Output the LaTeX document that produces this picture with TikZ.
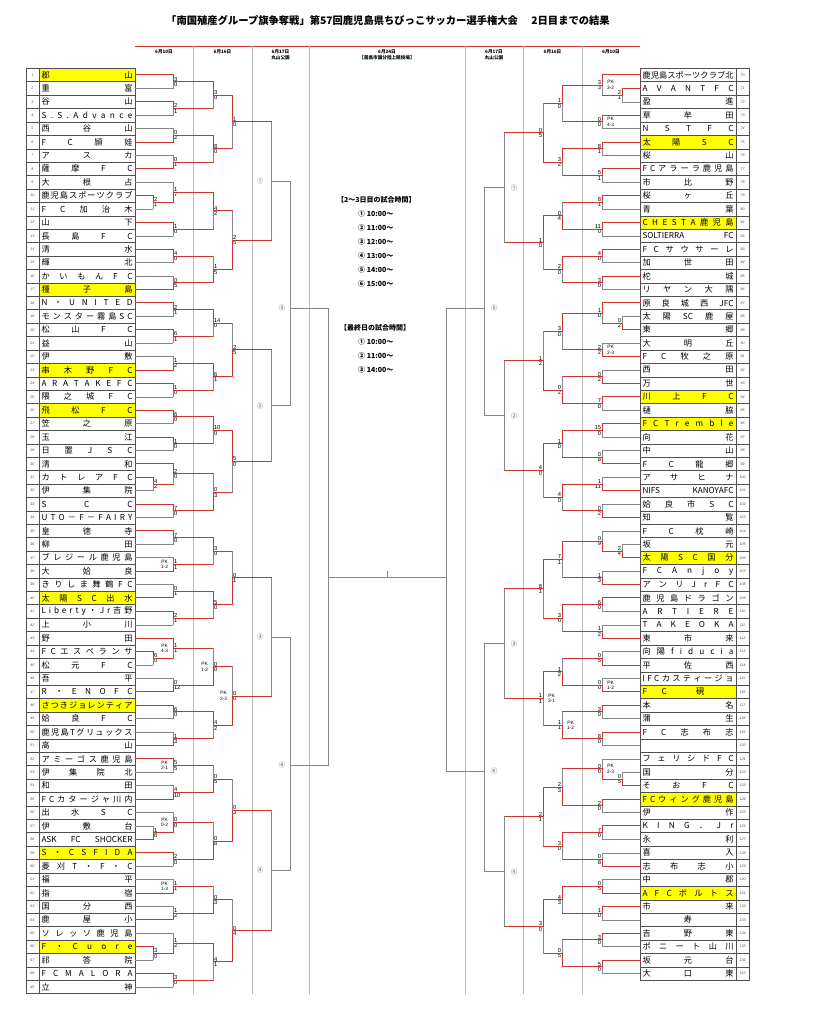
\documentclass[tikz,border=0pt]{standalone}
\usepackage{fontspec}
\usetikzlibrary{calc}
\newfontfamily\jp{Noto Sans CJK JP}
\newfontfamily\numf{Liberation Sans}
\definecolor{wred}{RGB}{204,51,51}
\definecolor{lgr}{RGB}{135,135,135}
\definecolor{sepc}{RGB}{185,185,185}
\definecolor{bord}{RGB}{80,80,80}
\definecolor{hl}{RGB}{255,255,0}
\def\spA#1#2\endsp{#1\if\relax\detokenize{#2}\relax\else\hfill\spA#2\endsp\fi}
\newcommand\spreadtext[1]{\spA#1\endsp}
\tikzset{
 namecell/.style={draw=bord, line width=0.45pt, minimum width=96pt, minimum height=13.41pt, inner sep=0pt, font=\jp\fontsize{8.2}{8.2}\selectfont},
 numcell/.style={draw=bord, line width=0.45pt, minimum width=13pt, minimum height=13.41pt, inner sep=0pt, font=\numf\itshape\fontsize{3.6}{3.6}\selectfont, text=black!70},
 r/.style={draw=wred, line width=1.0pt, line cap=rect},
 g/.style={draw=lgr, line width=0.55pt, line cap=rect},
 sc/.style={font=\numf\fontsize{5.8}{5.8}\selectfont, inner sep=0pt},
 pk/.style={font=\numf\fontsize{4.8}{5.4}\selectfont, align=center, inner sep=0pt},
 rl/.style={font=\jp\fontsize{6.5}{6.5}\selectfont, text=black!65, inner sep=0pt},
 sepline/.style={draw=sepc, line width=0.6pt},
 hdr/.style={font=\jp\bfseries\fontsize{4.6}{5.6}\selectfont, align=center, inner sep=0pt},
 ctext/.style={font=\jp\bfseries\fontsize{7}{7}\selectfont, inner sep=0pt, anchor=west},
}
\newcommand\lteam[3]{%
 \node[numcell] (nL#1) at (32.5,{75+13.41*(#1-1)}) {#1};
 \node[namecell,fill=#3] (tL#1) at (87,{75+13.41*(#1-1)}) {\hbox to 91pt{\spreadtext{#2}}};
 \coordinate (L#1) at (135,{75+13.41*(#1-1)});}
\newcommand\rteam[3]{%
 \node[numcell] (nR#1) at (742.5,{75+13.41*(#1-70)}) {#1};
 \node[namecell,fill=#3] (tR#1) at (688,{75+13.41*(#1-70)}) {\hbox to 91pt{\spreadtext{#2}}};
 \coordinate (R#1) at (640,{75+13.41*(#1-70)});}
\newcommand\mtch[8]{%
 \coordinate (#1m) at ($(#2)!0.5!(#3)$);
 \coordinate (#1) at (#4,0 |- #1m);
 \coordinate (#1a) at (#4,0 |- #2);
 \coordinate (#1b) at (#4,0 |- #3);
 \draw[#5] (#2) -- (#1a);
 \draw[#6] (#1a) -- (#1);
 \draw[#7] (#3) -- (#1b);
 \draw[#8] (#1b) -- (#1);}
\newcommand\mtchY[5]{%
 \coordinate (#1) at (#4,#5);
 \coordinate (#1a) at (#4,0 |- #2);
 \coordinate (#1b) at (#4,0 |- #3);
 \draw[g] (#2) -- (#1a) -- (#1b) -- (#3);}
\newcommand\scL[3]{%
 \node[sc,anchor=south west] (#1u) at ($(#1)+(0.8,-0.4)$) {#2};
 \node[sc,anchor=north west] (#1d) at ($(#1)+(0.8,0.4)$) {#3};}
\newcommand\scR[3]{%
 \node[sc,anchor=south east] (#1u) at ($(#1)+(-0.8,-0.4)$) {#2};
 \node[sc,anchor=north east] (#1d) at ($(#1)+(-0.8,0.4)$) {#3};}
\newcommand\pkL[2]{\node[pk] (#1pk) at ($(#1)+(-8.5,0)$) {PK\\#2};}
\newcommand\pkR[2]{\node[pk] (#1pk) at ($(#1)+(8.5,0)$) {PK\\#2};}
\newcommand\labL[3]{\node[rl] (#1lab) at ($(#1)+(-#2,0)$) {#3};}
\newcommand\labR[3]{\node[rl] (#1lab) at ($(#1)+(#2,0)$) {#3};}
\begin{document}
\begin{tikzpicture}[x=1pt,y=-1pt]
\useasboundingbox (0,0) rectangle (819,1024);
\fill[white] (0,0) rectangle (819,1024);
% header
\node[font=\jp\bfseries\fontsize{10.3}{10.3}\selectfont, inner sep=0pt] (title) at (388,21) {「南国殖産グループ旗争奪戦」第57回鹿児島県ちびっこサッカー選手権大会\hspace{1.3em}2日目までの結果};
\coordinate (hl1) at (135,46); \coordinate (hl2) at (640,46);
\draw[draw=wred, line width=0.8pt] (hl1) -- (hl2);
\foreach \xx in {193,252,309,465,523,582} { \draw[sepline] (\xx,46) -- (\xx,994); }
\node[hdr] (h1) at (164,52) {6月10日};
\node[hdr] (h2) at (222.5,52) {6月16日};
\node[hdr,anchor=north] (h3) at (280.5,49.5) {6月17日\\丸山公園};
\node[hdr,anchor=north] (h4) at (387,49.5) {6月24日\\【霧島市国分陸上競技場】};
\node[hdr,anchor=north] (h5) at (494,49.5) {6月17日\\丸山公園};
\node[hdr] (h6) at (552.5,52) {6月16日};
\node[hdr] (h7) at (611,52) {6月10日};
% center text
\node[ctext] (ct0) at (337,200) {【2～3日目の試合時間】};
\node[ctext] (ct1) at (358,214) {① 10:00～};
\node[ctext] (ct2) at (358,228) {② 11:00～};
\node[ctext] (ct3) at (358,242) {③ 12:00～};
\node[ctext] (ct4) at (358,256) {④ 13:00～};
\node[ctext] (ct5) at (358,270) {⑤ 14:00～};
\node[ctext] (ct6) at (358,284) {⑥ 15:00～};
\node[ctext] (ct7) at (340,328) {【最終日の試合時間】};
\node[ctext] (ct8) at (358,342) {① 10:00～};
\node[ctext] (ct9) at (358,356) {② 11:00～};
\node[ctext] (ct10) at (358,370) {③ 14:00～};
% left teams
\lteam{1}{郡山}{hl}
\lteam{2}{重富}{white}
\lteam{3}{谷山}{white}
\lteam{4}{S.S.Advance}{white}
\lteam{5}{西谷山}{white}
\lteam{6}{FC頴娃}{white}
\lteam{7}{アスカ}{white}
\lteam{8}{薩摩FC}{white}
\lteam{9}{大根占}{white}
\lteam{10}{鹿児島スポーツクラブ}{white}
\lteam{11}{FC加治木}{white}
\lteam{12}{山下}{white}
\lteam{13}{長島FC}{white}
\lteam{14}{清水}{white}
\lteam{15}{輝北}{white}
\lteam{16}{かいもんFC}{white}
\lteam{17}{種子島}{hl}
\lteam{18}{N・UNITED}{white}
\lteam{19}{モンスター霧島SC}{white}
\lteam{20}{松山FC}{white}
\lteam{21}{益山}{white}
\lteam{22}{伊敷}{white}
\lteam{23}{串木野FC}{hl}
\lteam{24}{ARATAKEFC}{white}
\lteam{25}{隈之城FC}{white}
\lteam{26}{飛松FC}{hl}
\lteam{27}{笠之原}{white}
\lteam{28}{玉江}{white}
\lteam{29}{日置JSC}{white}
\lteam{30}{清和}{white}
\lteam{31}{カトレアFC}{white}
\lteam{32}{伊集院}{white}
\lteam{33}{SCC}{white}
\lteam{34}{UTO－F－FAIRY}{white}
\lteam{35}{皇徳寺}{white}
\lteam{36}{柳田}{white}
\lteam{37}{ブレジール鹿児島}{white}
\lteam{38}{大姶良}{white}
\lteam{39}{きりしま舞鶴FC}{white}
\lteam{40}{太陽SC出水}{hl}
\lteam{41}{Liberty・Jr吉野}{white}
\lteam{42}{上小川}{white}
\lteam{43}{野田}{white}
\lteam{44}{FCエスペランサ}{white}
\lteam{45}{松元FC}{white}
\lteam{46}{吾平}{white}
\lteam{47}{R・ENOFC}{white}
\lteam{48}{さつきジョレンティア}{hl}
\lteam{49}{姶良FC}{white}
\lteam{50}{鹿児島Tグリュックス}{white}
\lteam{51}{高山}{white}
\lteam{52}{アミーゴス鹿児島}{white}
\lteam{53}{伊集院北}{white}
\lteam{54}{和田}{white}
\lteam{55}{FCカタージャ川内}{white}
\lteam{56}{出水SC}{white}
\lteam{57}{伊敷台}{white}
\lteam{58}{{ASK}{FC}{SHOCKER}{}}{white}
\lteam{59}{S・CSFIDA}{hl}
\lteam{60}{菱刈T・F・C}{white}
\lteam{61}{福平}{white}
\lteam{62}{指宿}{white}
\lteam{63}{国分西}{white}
\lteam{64}{鹿屋小}{white}
\lteam{65}{ソレッソ鹿児島}{white}
\lteam{66}{F・Cuore}{hl}
\lteam{67}{祁答院}{white}
\lteam{68}{FCMALORA}{white}
\lteam{69}{立神}{white}
% right teams
\rteam{70}{鹿児島スポーツクラブ北}{white}
\rteam{71}{AVANTFC}{white}
\rteam{72}{盈進}{white}
\rteam{73}{草牟田}{white}
\rteam{74}{NSTFC}{white}
\rteam{75}{太陽SC}{hl}
\rteam{76}{桜山}{white}
\rteam{77}{FCアラーラ鹿児島}{white}
\rteam{78}{市比野}{white}
\rteam{79}{桜ヶ丘}{white}
\rteam{80}{青葉}{white}
\rteam{81}{CHESTA鹿児島}{hl}
\rteam{82}{{SOLTIERRA}{FC}{}}{white}
\rteam{83}{FCサウサーレ}{white}
\rteam{84}{加世田}{white}
\rteam{85}{柁城}{white}
\rteam{86}{リヤン大隅}{white}
\rteam{87}{原良城西{JFC}{}}{white}
\rteam{88}{太陽{SC}鹿屋}{white}
\rteam{89}{東郷}{white}
\rteam{90}{大明丘}{white}
\rteam{91}{FC牧之原}{white}
\rteam{92}{西田}{white}
\rteam{93}{万世}{white}
\rteam{94}{川上FC}{hl}
\rteam{95}{樋脇}{white}
\rteam{96}{FC Tremble}{hl}
\rteam{97}{向花}{white}
\rteam{98}{中山}{white}
\rteam{99}{FC龍郷}{white}
\rteam{100}{アサヒナ}{white}
\rteam{101}{{NIFS}{KANOYAFC}{}}{white}
\rteam{102}{姶良市SC}{white}
\rteam{103}{知覧}{white}
\rteam{104}{FC枕崎}{white}
\rteam{105}{坂元}{white}
\rteam{106}{太陽SC国分}{hl}
\rteam{107}{FCAnjoy}{white}
\rteam{108}{アンリJrFC}{white}
\rteam{109}{鹿児島ドラゴン}{white}
\rteam{110}{ARTIERE}{white}
\rteam{111}{TAKEOKA}{white}
\rteam{112}{東市来}{white}
\rteam{113}{向陽fiducia}{white}
\rteam{114}{平佐西}{white}
\rteam{115}{IFCカスティージョ}{white}
\rteam{116}{FC{}硯{}{}{}}{hl}
\rteam{117}{本名}{white}
\rteam{118}{蒲生}{white}
\rteam{119}{FC志布志}{white}
\rteam{120}{{\hfill}}{white}
\rteam{121}{フェリシドFC}{white}
\rteam{122}{国分}{white}
\rteam{123}{そおFC}{white}
\rteam{124}{FCウィング鹿児島}{hl}
\rteam{125}{伊作}{white}
\rteam{126}{KING．Jr}{white}
\rteam{127}{永利}{white}
\rteam{128}{喜入}{white}
\rteam{129}{志布志小}{white}
\rteam{130}{中郡}{white}
\rteam{131}{AFCボルトス}{hl}
\rteam{132}{市来}{white}
\rteam{133}{{\hfill}寿{\hfill}}{white}
\rteam{134}{吉野東}{white}
\rteam{135}{ポニート山川}{white}
\rteam{136}{坂元台}{white}
\rteam{137}{大口東}{white}
% ===== left bracket =====
\mtch{a1}{L1}{L2}{173}{r}{r}{g}{g}\scL{a1}{3}{0}
\mtch{a2}{L3}{L4}{173}{r}{r}{g}{g}\scL{a2}{2}{1}
\mtch{b1}{a1}{a2}{213}{r}{r}{r}{g}\scL{b1}{3}{0}
\mtch{a3}{L5}{L6}{173}{g}{g}{r}{r}\scL{a3}{0}{2}
\mtch{a4}{L7}{L8}{173}{g}{g}{r}{r}\scL{a4}{0}{1}
\mtch{b2}{a3}{a4}{213}{r}{r}{r}{g}\scL{b2}{8}{0}
\mtch{c1}{b1}{b2}{232}{r}{r}{r}{g}\scL{c1}{1}{0}
\mtch{p1}{L10}{L11}{153}{r}{r}{g}{g}\scL{p1}{2}{1}
\mtch{a5}{L9}{p1}{173}{g}{g}{r}{r}\scL{a5}{1}{7}
\mtch{a6}{L12}{L13}{173}{r}{r}{g}{g}\scL{a6}{1}{0}
\mtch{b3}{a5}{a6}{213}{r}{r}{r}{g}\scL{b3}{4}{2}
\mtch{a7}{L14}{L15}{173}{r}{r}{g}{g}\scL{a7}{4}{0}
\mtch{a8}{L16}{L17}{173}{g}{g}{r}{r}\scL{a8}{0}{5}
\mtch{b4}{a7}{a8}{213}{r}{g}{r}{r}\scL{b4}{1}{5}
\mtch{c2}{b3}{b4}{232}{r}{g}{r}{r}\scL{c2}{2}{5}
\mtch{d1}{c1}{c2}{271}{r}{g}{r}{g}\labL{d1}{11}{①}
\mtch{a9}{L18}{L19}{173}{r}{r}{g}{g}\scL{a9}{2}{1}
\mtch{a10}{L20}{L21}{173}{r}{r}{g}{g}\scL{a10}{6}{1}
\mtch{b5}{a9}{a10}{213}{r}{r}{r}{g}\scL{b5}{14}{0}
\mtch{a11}{L22}{L23}{173}{g}{g}{r}{r}\scL{a11}{1}{2}
\mtch{a12}{L24}{L25}{173}{r}{r}{g}{g}\scL{a12}{1}{0}
\mtch{b6}{a11}{a12}{213}{r}{r}{r}{g}\scL{b6}{6}{1}
\mtch{c3}{b5}{b6}{232}{r}{g}{r}{r}\scL{c3}{2}{5}
\mtch{a13}{L26}{L27}{173}{r}{r}{g}{g}\scL{a13}{6}{0}
\mtch{a14}{L28}{L29}{173}{r}{r}{g}{g}\scL{a14}{1}{0}
\mtch{b7}{a13}{a14}{213}{r}{r}{r}{g}\scL{b7}{10}{0}
\mtch{p2}{L31}{L32}{153}{r}{r}{g}{g}\scL{p2}{4}{2}
\mtch{a15}{L30}{p2}{173}{r}{r}{r}{g}\scL{a15}{2}{0}
\mtch{a16}{L33}{L34}{173}{r}{r}{g}{g}\scL{a16}{7}{0}
\mtch{b8}{a15}{a16}{213}{r}{g}{r}{r}\scL{b8}{0}{3}
\mtch{c4}{b7}{b8}{232}{r}{r}{r}{g}\scL{c4}{5}{0}
\mtch{d2}{c3}{c4}{271}{r}{g}{r}{g}\labL{d2}{11}{②}
\mtchY{e1}{d1}{d2}{290}{308}\labL{e1}{8}{⑤}
\mtch{a17}{L35}{L36}{173}{r}{r}{g}{g}\scL{a17}{7}{0}
\mtch{a18}{L37}{L38}{173}{g}{g}{r}{r}\scL{a18}{1}{1}\pkL{a18}{1-2}
\mtch{b9}{a17}{a18}{213}{r}{r}{r}{g}\scL{b9}{3}{0}
\mtch{a19}{L39}{L40}{173}{g}{g}{r}{r}\scL{a19}{0}{1}
\mtch{a20}{L41}{L42}{173}{r}{r}{g}{g}\scL{a20}{2}{1}
\mtch{b10}{a19}{a20}{213}{r}{r}{r}{g}\scL{b10}{5}{0}
\mtch{c5}{b9}{b10}{232}{r}{g}{r}{r}\scL{c5}{0}{1}
\mtch{p3}{L44}{L45}{153}{r}{r}{g}{g}\scL{p3}{6}{0}
\mtch{a21}{L43}{p3}{173}{r}{r}{r}{g}\scL{a21}{1}{1}\pkL{a21}{4-3}
\mtch{a22}{L46}{L47}{173}{g}{g}{r}{r}\scL{a22}{0}{12}
\mtch{b11}{a21}{a22}{213}{r}{g}{r}{r}\scL{b11}{0}{0}\pkL{b11}{1-2}
\mtch{a23}{L48}{L49}{173}{r}{r}{g}{g}\scL{a23}{6}{0}
\mtch{a24}{L50}{L51}{173}{g}{g}{r}{r}\scL{a24}{1}{3}
\mtch{b12}{a23}{a24}{213}{r}{r}{r}{g}\scL{b12}{4}{2}
\mtch{c6}{b11}{b12}{232}{r}{g}{r}{r}\scL{c6}{0}{0}\pkL{c6}{2-3}
\mtch{d3}{c5}{c6}{271}{r}{g}{r}{g}\labL{d3}{11}{③}
\mtch{a25}{L52}{L53}{173}{r}{r}{g}{g}\scL{a25}{5}{5}\pkL{a25}{2-1}
\mtch{a26}{L54}{L55}{173}{g}{g}{r}{r}\scL{a26}{4}{10}
\mtch{b13}{a25}{a26}{213}{r}{g}{r}{r}\scL{b13}{0}{5}
\mtch{p4}{L57}{L58}{153}{g}{g}{r}{r}\scL{p4}{1}{6}
\mtch{a27}{L56}{p4}{173}{g}{g}{r}{r}\scL{a27}{0}{0}\pkL{a27}{0-2}
\mtch{a28}{L59}{L60}{173}{r}{r}{g}{g}\scL{a28}{2}{0}
\mtch{b14}{a27}{a28}{213}{r}{g}{r}{r}\scL{b14}{0}{8}
\mtch{c7}{b13}{b14}{232}{r}{g}{r}{r}\scL{c7}{0}{3}
\mtch{a29}{L61}{L62}{173}{g}{g}{r}{r}\scL{a29}{1}{1}\pkL{a29}{1-3}
\mtch{a30}{L63}{L64}{173}{g}{g}{r}{r}\scL{a30}{1}{2}
\mtch{b15}{a29}{a30}{213}{r}{g}{r}{r}\scL{b15}{0}{3}
\mtch{p5}{L66}{L67}{153}{r}{r}{g}{g}\scL{p5}{3}{0}
\mtch{a31}{L65}{p5}{173}{g}{g}{r}{r}\scL{a31}{1}{2}
\mtch{a32}{L68}{L69}{173}{r}{r}{g}{g}\scL{a32}{3}{0}
\mtch{b16}{a31}{a32}{213}{r}{r}{r}{g}\scL{b16}{4}{1}
\mtch{c8}{b15}{b16}{232}{r}{g}{r}{r}\scL{c8}{0}{4}
\mtch{d4}{c7}{c8}{271}{r}{g}{r}{g}\labL{d4}{11}{④}
\mtchY{e2}{d3}{d4}{290}{765}\labL{e2}{8}{⑥}
% ===== right bracket =====
\mtch{q1}{R71}{R72}{622}{r}{r}{g}{g}\scR{q1}{2}{1}
\mtch{s1}{R70}{q1}{602}{r}{r}{r}{g}\scR{s1}{3}{3}\pkR{s1}{3-2}
\mtch{s2}{R73}{R74}{602}{r}{r}{g}{g}\scR{s2}{0}{0}\pkR{s2}{4-3}
\mtch{t1}{s1}{s2}{562}{r}{r}{r}{g}\scR{t1}{1}{0}
\mtch{s3}{R75}{R76}{602}{r}{r}{g}{g}\scR{s3}{8}{1}
\mtch{s4}{R77}{R78}{602}{r}{r}{g}{g}\scR{s4}{5}{1}
\mtch{t2}{s3}{s4}{562}{r}{r}{r}{g}\scR{t2}{3}{2}
\mtch{u1}{t1}{t2}{543}{r}{g}{r}{r}\scR{u1}{0}{5}
\mtch{s5}{R79}{R80}{602}{r}{r}{g}{g}\scR{s5}{8}{1}
\mtch{s6}{R81}{R82}{602}{r}{r}{g}{g}\scR{s6}{11}{0}
\mtch{t3}{s5}{s6}{562}{r}{g}{r}{r}\scR{t3}{0}{4}
\mtch{s7}{R83}{R84}{602}{r}{r}{g}{g}\scR{s7}{4}{0}
\mtch{s8}{R85}{R86}{602}{r}{r}{g}{g}\scR{s8}{3}{0}
\mtch{t4}{s7}{s8}{562}{r}{r}{r}{g}\scR{t4}{2}{0}
\mtch{u2}{t3}{t4}{543}{r}{r}{r}{g}\scR{u2}{1}{0}
\mtch{v1}{u1}{u2}{504}{r}{g}{r}{g}\labR{v1}{10}{①}
\mtch{q2}{R88}{R89}{622}{g}{g}{r}{r}\scR{q2}{0}{2}
\mtch{s9}{R87}{q2}{602}{r}{r}{r}{g}\scR{s9}{1}{0}
\mtch{s10}{R90}{R91}{602}{g}{g}{r}{r}\scR{s10}{2}{2}\pkR{s10}{2-3}
\mtch{t5}{s9}{s10}{562}{r}{r}{r}{g}\scR{t5}{3}{0}
\mtch{s11}{R92}{R93}{602}{g}{g}{r}{r}\scR{s11}{0}{2}
\mtch{s12}{R94}{R95}{602}{r}{r}{g}{g}\scR{s12}{7}{0}
\mtch{t6}{s11}{s12}{562}{r}{g}{r}{r}\scR{t6}{0}{2}
\mtch{u3}{t5}{t6}{543}{r}{g}{r}{r}\scR{u3}{1}{2}
\mtch{s13}{R96}{R97}{602}{r}{r}{g}{g}\scR{s13}{15}{0}
\mtch{s14}{R98}{R99}{602}{g}{g}{r}{r}\scR{s14}{0}{8}
\mtch{t7}{s13}{s14}{562}{r}{r}{r}{g}\scR{t7}{1}{0}
\mtch{s15}{R100}{R101}{602}{g}{g}{r}{r}\scR{s15}{1}{11}
\mtch{s16}{R102}{R103}{602}{g}{g}{r}{r}\scR{s16}{0}{2}
\mtch{t8}{s15}{s16}{562}{r}{r}{r}{g}\scR{t8}{4}{0}
\mtch{u4}{t7}{t8}{543}{r}{r}{r}{g}\scR{u4}{4}{0}
\mtch{v2}{u3}{u4}{504}{r}{g}{r}{g}\labR{v2}{10}{②}
\mtchY{w1}{v1}{v2}{484}{308}\labR{w1}{10}{⑤}
\mtch{q3}{R105}{R106}{622}{g}{g}{r}{r}\scR{q3}{2}{4}
\mtch{s17}{R104}{q3}{602}{g}{g}{r}{r}\scR{s17}{0}{9}
\mtch{s18}{R107}{R108}{602}{g}{g}{r}{r}\scR{s18}{1}{3}
\mtch{t9}{s17}{s18}{562}{r}{r}{r}{g}\scR{t9}{7}{1}
\mtch{s19}{R109}{R110}{602}{r}{r}{g}{g}\scR{s19}{6}{0}
\mtch{s20}{R111}{R112}{602}{g}{g}{r}{r}\scR{s20}{1}{2}
\mtch{t10}{s19}{s20}{562}{r}{r}{r}{g}\scR{t10}{3}{0}
\mtch{u5}{t9}{t10}{543}{r}{r}{r}{g}\scR{u5}{8}{1}
\mtch{s21}{R113}{R114}{602}{g}{g}{r}{r}\scR{s21}{0}{5}
\mtch{s22}{R115}{R116}{602}{g}{g}{r}{r}\scR{s22}{0}{0}\pkR{s22}{1-2}
\mtch{t11}{s21}{s22}{562}{r}{g}{r}{r}\scR{t11}{1}{2}
\mtch{s23}{R117}{R118}{602}{r}{r}{g}{g}\scR{s23}{3}{0}
\mtch{s24}{R119}{R120}{602}{r}{r}{g}{g}\scR{s24}{8}{0}
\mtch{t12}{s23}{s24}{562}{r}{g}{r}{r}\scR{t12}{1}{1}\pkR{t12}{1-2}
\mtch{u6}{t11}{t12}{543}{r}{r}{r}{g}\scR{u6}{1}{1}\pkR{u6}{3-1}
\mtch{v3}{u5}{u6}{504}{r}{g}{r}{g}\labR{v3}{10}{③}
\mtch{q4}{R122}{R123}{622}{g}{g}{r}{r}\scR{q4}{0}{5}
\mtch{s25}{R121}{q4}{602}{g}{g}{r}{r}\scR{s25}{0}{0}\pkR{s25}{2-3}
\mtch{s26}{R124}{R125}{602}{r}{r}{g}{g}\scR{s26}{2}{0}
\mtch{t13}{s25}{s26}{562}{r}{g}{r}{r}\scR{t13}{2}{3}
\mtch{s27}{R126}{R127}{602}{r}{r}{g}{g}\scR{s27}{7}{0}
\mtch{s28}{R128}{R129}{602}{g}{g}{r}{r}\scR{s28}{0}{8}
\mtch{t14}{s27}{s28}{562}{r}{r}{r}{g}\scR{t14}{3}{0}
\mtch{u7}{t13}{t14}{543}{r}{r}{r}{g}\scR{u7}{2}{1}
\mtch{s29}{R130}{R131}{602}{g}{g}{r}{r}\scR{s29}{0}{5}
\mtch{s30}{R132}{R133}{602}{r}{r}{g}{g}\scR{s30}{1}{0}
\mtch{t15}{s29}{s30}{562}{r}{r}{r}{g}\scR{t15}{4}{3}
\mtch{s31}{R134}{R135}{602}{r}{r}{g}{g}\scR{s31}{3}{0}
\mtch{s32}{R136}{R137}{602}{r}{r}{g}{g}\scR{s32}{5}{0}
\mtch{t16}{s31}{s32}{562}{r}{g}{r}{r}\scR{t16}{0}{5}
\mtch{u8}{t15}{t16}{543}{r}{r}{r}{g}\scR{u8}{3}{0}
\mtch{v4}{u7}{u8}{504}{r}{g}{r}{g}\labR{v4}{10}{④}
\mtchY{w2}{v3}{v4}{484}{771}\labR{w2}{10}{⑥}
% final
\coordinate (fl1) at (328,308); \coordinate (fl2) at (328,765);
\coordinate (fr1) at (446,308); \coordinate (fr2) at (446,771);
\draw[g] (e1) -- (fl1) -- (fl2) -- (e2);
\draw[g] (w1) -- (fr1) -- (fr2) -- (w2);
\coordinate (cl) at (328,577); \coordinate (cr) at (446,577);
\coordinate (ctk) at (387,577); \coordinate (ctk2) at (387,571);
\draw[g] (cl) -- (cr);
\draw[g] (ctk) -- (ctk2);
\end{tikzpicture}
\end{document}
